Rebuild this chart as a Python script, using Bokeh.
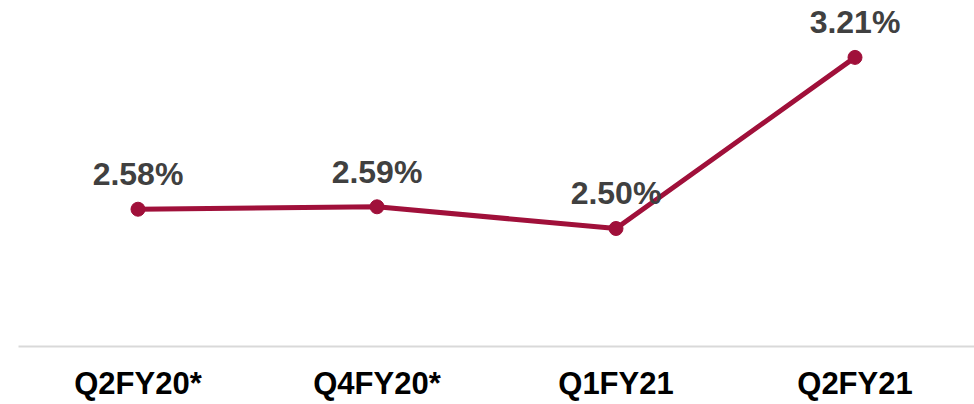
from bokeh.plotting import figure
from bokeh.models import ColumnDataSource, Range1d, FixedTicker
from bokeh.core.properties import value
from bokeh.embed import file_html
from bokeh.resources import INLINE

categories = ["Q2FY20*", "Q4FY20*", "Q1FY21", "Q2FY21"]
values = [2.58, 2.59, 2.50, 3.21]
labels = ["2.58%", "2.59%", "2.50%", "3.21%"]

xs = list(range(len(categories)))
src = ColumnDataSource(dict(x=xs, y=values, label=labels))

p = figure(width=974, height=404, output_backend="svg", toolbar_location=None,
           x_range=Range1d(-0.5, 3.5), y_range=Range1d(2.0104, 3.446),
           min_border_left=18, min_border_right=0, min_border_top=0, min_border_bottom=58)
p.outline_line_color = None
p.xgrid.visible = False
p.ygrid.visible = False
p.yaxis.visible = False
p.background_fill_color = "white"
p.border_fill_color = "white"

color = "#A0103A"
p.line("x", "y", source=src, line_color=color, line_width=5)
p.scatter("x", "y", source=src, size=14, fill_color=color, line_color=color)
p.text("x", "y", text="label", source=src, text_align="center", text_baseline="alphabetic",
       y_offset=-35, text_font=value("Liberation Sans"), text_font_style="bold",
       text_font_size="32px", text_color="#404040")

ax = p.xaxis[0]
ax.ticker = FixedTicker(ticks=xs)
ax.major_label_overrides = {i: c for i, c in enumerate(categories)}
ax.major_tick_line_color = None
ax.minor_tick_line_color = None
ax.axis_line_color = "#D9D9D9"
ax.axis_line_width = 2
ax.major_label_text_font = "Liberation Sans"
ax.major_label_text_font_style = "bold"
ax.major_label_text_font_size = "31px"
ax.major_label_text_color = "#000000"
ax.major_label_standoff = 13

open("out.html", "w").write(file_html(p, INLINE))
